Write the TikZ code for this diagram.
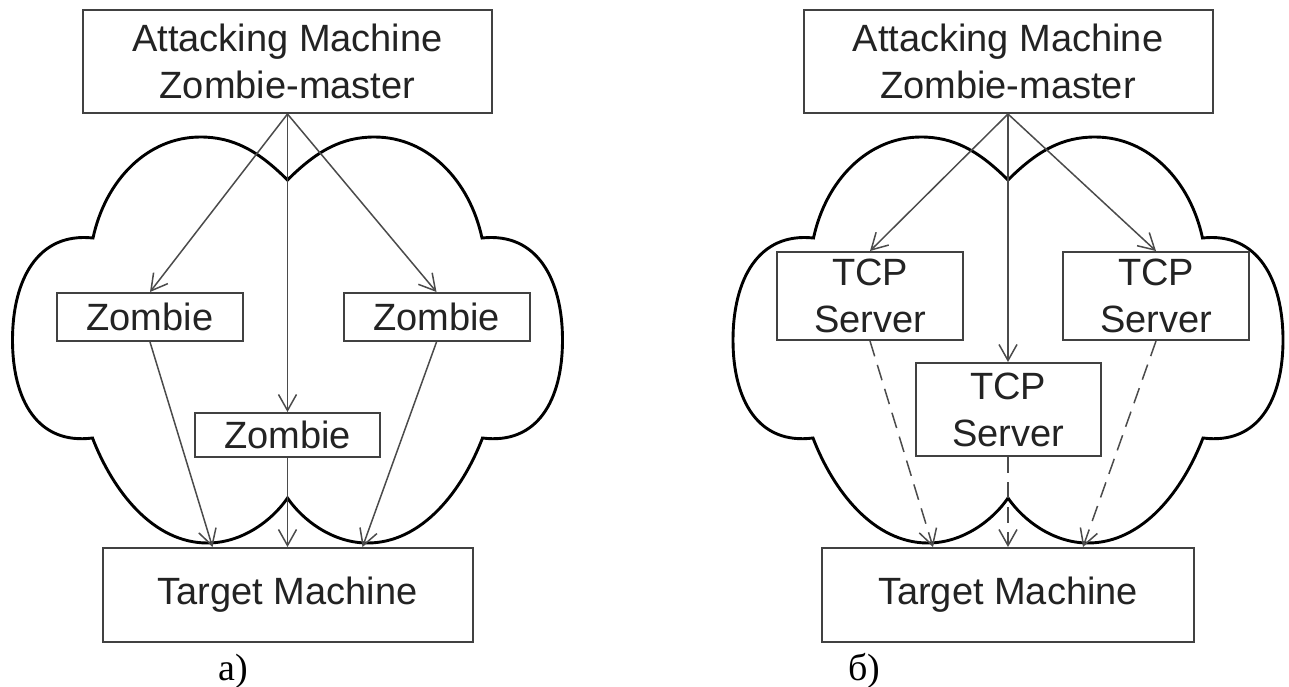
\documentclass[tikz,border=0pt]{standalone}
\usepackage{fontspec}
\setmainfont{Liberation Serif}
\newfontfamily\labelfont{Liberation Sans}
\usetikzlibrary{arrows.meta}

\definecolor{boxline}{RGB}{65,65,65}
\definecolor{ink}{RGB}{35,35,35}
\definecolor{wire}{RGB}{75,75,75}

\tikzset{
  box/.style={draw=boxline, fill=white, line width=1pt, inner sep=0pt, text=ink,
    font=\labelfont\fontsize{19}{23.5}\selectfont, align=center},
  link/.style={draw=wire, line width=0.75pt, -{Straight Barb[length=8pt,width=9pt]}},
  dlink/.style={link, dash pattern=on 8pt off 4.5pt},
  cloudline/.style={draw=black, line width=1.45pt, line join=miter},
  caption/.style={font=\rmfamily\fontsize{19}{23}\selectfont, text=black, inner sep=0pt},
  % network cloud: two upper lobes, two side lobes, two lower lobes
  netcloud/.pic={
    \draw[cloudline] (0,180)
      .. controls (30,150) and (55,137) .. (87,137)
      .. controls (140,137) and (182,180) .. (194.5,238)
      .. controls (250,232) and (275,280) .. (275,340)
      .. controls (275,400) and (250,445) .. (195,438)
      .. controls (175,490) and (135,543) .. (80,543)
      .. controls (45,543) and (15,520) .. (0,498)
      .. controls (-15,520) and (-45,543) .. (-80,543)
      .. controls (-135,543) and (-175,490) .. (-195,438)
      .. controls (-250,445) and (-275,400) .. (-275,340)
      .. controls (-275,280) and (-250,232) .. (-194.5,238)
      .. controls (-182,180) and (-140,137) .. (-87,137)
      .. controls (-55,137) and (-30,150) .. (0,180) -- cycle;
  }
}

\begin{document}
\begin{tikzpicture}[x=0.5pt,y=-0.5pt]
\useasboundingbox (0,0) rectangle (1289,686);

% clouds
\pic at (287.5,0) {netcloud};
\pic at (1008,0) {netcloud};

% a) zombie network
\node[box, minimum width=204.5pt, minimum height=51.5pt] (mA) at (287.5,61.5) {Attacking Machine\\Zombie-master};
\node[box, minimum width=93pt, minimum height=24pt] (zL) at (150,317) {Zombie};
\node[box, minimum width=93pt, minimum height=24pt] (zR) at (436.5,317) {Zombie};
\node[box, minimum width=92.5pt, minimum height=22pt] (zM) at (287.5,435) {Zombie};
\node[box, minimum width=185pt, minimum height=47pt] (tA) at (287.5,595) {Target Machine};

\draw[link] (mA.south) -- (zL.north);
\draw[link] (mA.south) -- (zM.north);
\draw[link] (mA.south) -- (zR.north);
\draw[link] (zL.south) -- ([xshift=-37.5pt]tA.north);
\draw[link] (zM.south) -- (tA.north);
\draw[link] (zR.south) -- ([xshift=37.5pt]tA.north);

% b) reflector network
\node[box, minimum width=204.5pt, minimum height=51.5pt] (mB) at (1008,61.5) {Attacking Machine\\Zombie-master};
\node[box, minimum width=93pt, minimum height=44pt] (sL) at (870,296) {TCP\\Server};
\node[box, minimum width=93pt, minimum height=44pt] (sR) at (1156,296) {TCP\\Server};
\node[box, minimum width=92.5pt, minimum height=46.5pt] (sM) at (1008,409.5) {TCP\\Server};
\node[box, minimum width=186pt, minimum height=47pt] (tB) at (1008,595) {Target Machine};

\draw[link] (mB.south) -- (sL.north);
\draw[link] (mB.south) -- (sM.north);
\draw[link] (mB.south) -- (sR.north);
\draw[dlink] (sL.south) -- ([xshift=-37.5pt]tB.north);
\draw[dlink] (sM.south) -- (tB.north);
\draw[dlink] (sR.south) -- ([xshift=37.5pt]tB.north);

% captions
\node[caption] (capA) at (233,671) {a)};
\node[caption] (capB) at (864,671) {б)};
\end{tikzpicture}
\end{document}
